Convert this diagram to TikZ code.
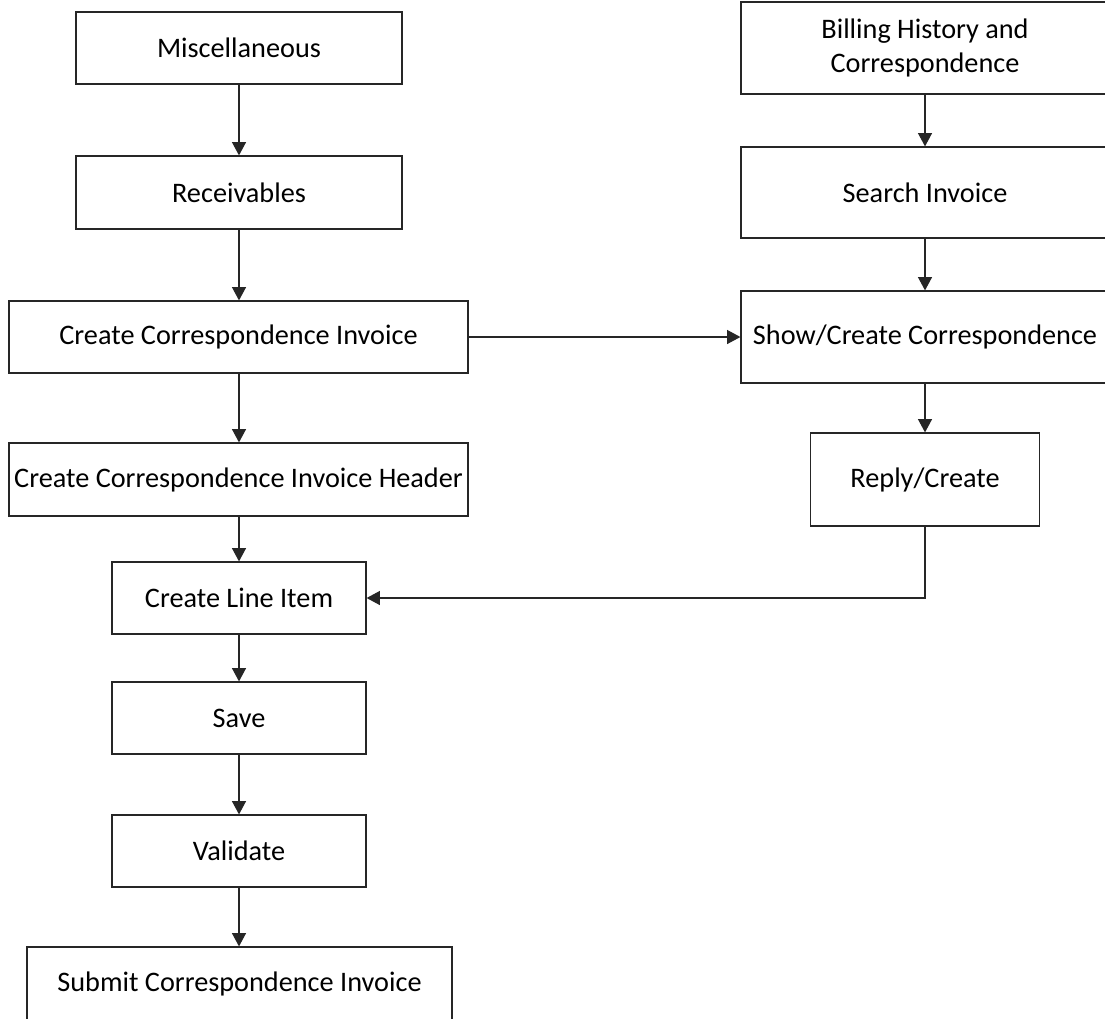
\documentclass[tikz,border=0pt]{standalone}
\usepackage{fontspec}
\setmainfont{Carlito}
\usetikzlibrary{arrows.meta}
\begin{document}
\begin{tikzpicture}[x=0.75pt,y=-0.75pt,
  bx/.style 2 args={draw=black!85, line width=0.9pt, rectangle, inner sep=0pt, align=center,
    minimum width=#1*0.75pt, minimum height=#2*0.75pt,
    font=\fontsize{21.2}{25}\selectfont},
  conn/.style={draw=black!85, line width=0.9pt, -{Triangle[length=10pt,width=10.5pt]}}]
\clip (0,0) rectangle (1105,1018);
\fill[white] (0,0) rectangle (1105,1018);
% left column
\node[bx={326}{72}] (misc) at (239,48) {Miscellaneous};
\node[bx={326}{73}] (recv) at (239,192.5) {Receivables};
\node[bx={459}{72}] (cci) at (238.5,337) {Create Correspondence Invoice};
\node[bx={459}{73}] (hdr) at (238.5,479.5) {Create Correspondence Invoice Header};
\node[bx={254}{72}] (cli) at (239,598) {Create Line Item};
\node[bx={254}{72}] (save) at (239,718) {Save};
\node[bx={254}{72}] (valid) at (239,851) {Validate};
\node[bx={425}{74}] (submit) at (239.5,984) {Submit Correspondence Invoice};
% right column
\node[bx={368}{92}] (bill) at (925,48) {Billing History and\\Correspondence};
\node[bx={368}{91}] (search) at (925,192.5) {Search Invoice};
\node[bx={368}{92}] (show) at (925,337) {Show/Create Correspondence};
\node[bx={229}{93}] (reply) at (925,479.5) {Reply/Create};
% connectors
\draw[conn] (misc.south) -- (recv.north);
\draw[conn] (recv.south) -- (cci.north -| recv.south);
\draw[conn] (cci.south -| misc.south) -- (hdr.north -| misc.south);
\draw[conn] (hdr.south -| misc.south) -- (cli.north);
\draw[conn] (cli.south) -- (save.north);
\draw[conn] (save.south) -- (valid.north);
\draw[conn] (valid.south) -- (submit.north -| valid.south);
\draw[conn] (bill.south) -- (search.north);
\draw[conn] (search.south) -- (show.north);
\draw[conn] (show.south) -- (reply.north);
\draw[conn] (cci.east) -- (show.west);
\draw[conn] (reply.south) |- (cli.east);
\end{tikzpicture}
\end{document}
